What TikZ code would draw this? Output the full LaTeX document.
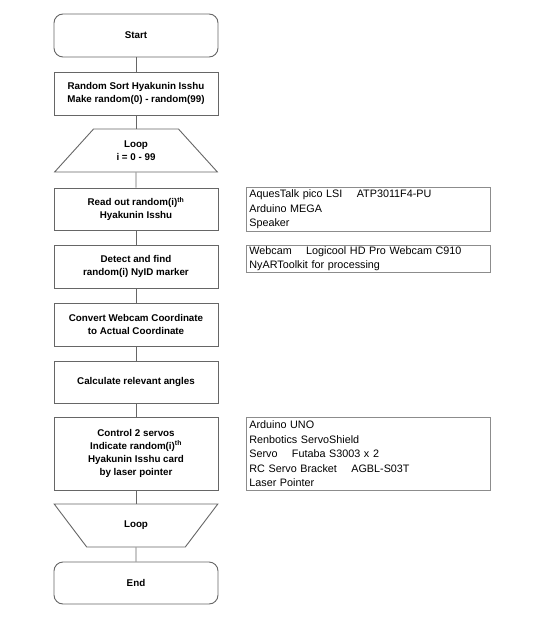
\documentclass[tikz,border=0pt]{standalone}
\usepackage{fontspec}
\setmainfont{Liberation Sans}
\usetikzlibrary{shapes.geometric}
\begin{document}
\begin{tikzpicture}[x=1pt,y=-1pt,
  flow/.style={draw=black!60, line width=0.9pt, minimum width=164pt, align=center, font=\fontsize{9.8}{13}\selectfont\bfseries, inner sep=0pt},
  box/.style={flow, rectangle},
  term/.style={flow, rectangle, rounded corners=9pt, minimum height=43pt},
  trap/.style={flow, trapezium, trapezium stretches=true, trapezium left angle=48, trapezium right angle=48, minimum height=43pt},
  note/.style={draw=black!45, line width=0.7pt, minimum width=244pt, align=left, anchor=north west, text width=238pt, inner xsep=3pt, inner ysep=0pt, font=\fontsize{10.8}{14.5}\selectfont},
  conn/.style={draw=black!60, line width=0.9pt}]
\useasboundingbox (0,0) rectangle (545,620);
\fill[white] (0,0) rectangle (545,620);
\node[term] (start) at (136,35.5) {Start};
\node[box, minimum height=43pt] (sort) at (136,93.5) {Random Sort Hyakunin Isshu\\Make random(0) - random(99)};
\node[trap] (loop1) at (136,150.5) {Loop\\i = 0 - 99};
\node[box, minimum height=42pt] (read) at (136,209) {Read out random(i)\textsuperscript{th}\\Hyakunin Isshu};
\node[box, minimum height=43pt] (detect) at (136,266.5) {Detect and find\\random(i) NyID marker};
\node[box, minimum height=43pt] (conv) at (136,324.5) {Convert Webcam Coordinate\\to Actual Coordinate};
\node[box, minimum height=42pt] (calc) at (136,382) {Calculate relevant angles};
\node[box, minimum height=73pt] (ctrl) at (136,453.5) {Control 2 servos\\Indicate random(i)\textsuperscript{th}\\Hyakunin Isshu card\\by laser pointer};
\node[trap, shape border rotate=180] (loop2) at (136,525.5) {Loop};
\node[term, minimum height=42pt] (end) at (136,583) {End};
\draw[conn] (start) -- (sort);
\draw[conn] (sort) -- (loop1);
\draw[conn] (loop1) -- (read);
\draw[conn] (read) -- (detect);
\draw[conn] (detect) -- (conv);
\draw[conn] (conv) -- (calc);
\draw[conn] (calc) -- (ctrl);
\draw[conn] (ctrl) -- (loop2);
\draw[conn] (loop2) -- (end);
\node[note, minimum height=44pt] (n1) at (246,187) {AquesTalk pico LSI\quad\ ATP3011F4-PU\\Arduino MEGA\\Speaker};
\node[note, minimum height=27pt] (n2) at (246,245) {Webcam\quad\ Logicool HD Pro Webcam C910\\NyARToolkit for processing};
\node[note, minimum height=73pt] (n3) at (246,417) {Arduino UNO\\Renbotics ServoShield\\Servo\quad\ Futaba S3003 x 2\\RC Servo Bracket\quad\ AGBL-S03T\\Laser Pointer};
\end{tikzpicture}
\end{document}
